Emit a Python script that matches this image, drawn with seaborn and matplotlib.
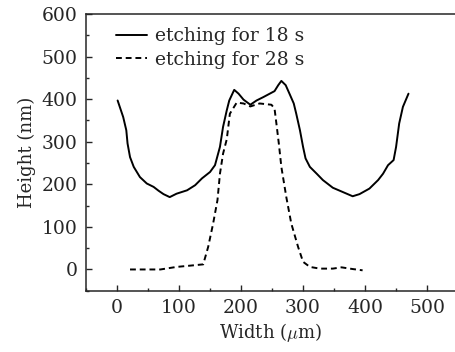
import numpy as np
import pandas as pd
import seaborn as sns
import matplotlib.pyplot as plt
from matplotlib.ticker import MultipleLocator

# etching for 18 s (solid)
x18 = [1, 10, 15, 17, 21, 27, 37, 48, 59, 67, 75, 85, 96, 113, 126, 137, 150, 158,
       166, 171, 177, 181, 189, 196, 204, 215, 225, 236, 254, 260, 265, 272, 279,
       285, 289, 295, 300, 304, 311, 322, 332, 348, 364, 380, 391, 407, 421, 429,
       437, 446, 450, 455, 461, 470]
y18 = [397, 358, 327, 296, 264, 241, 217, 202, 194, 185, 177, 170, 178, 186, 198, 214,
       229, 245, 288, 335, 374, 397, 422, 413, 399, 387, 397, 405, 419, 433, 443,
       433, 410, 390, 366, 327, 288, 261, 241, 225, 210, 192, 182, 172, 177, 190,
       210, 225, 245, 257, 288, 343, 382, 413]

# etching for 28 s (dashed)
x28 = [21, 70, 96, 118, 139, 147, 155, 162, 166, 171, 177, 182, 193, 204, 215, 230,
       249, 254, 257, 261, 265, 273, 281, 292, 300, 311, 327, 348, 362, 380, 396]
y28 = [0, 0, 6, 9, 12, 53, 108, 163, 225, 272, 306, 366, 392, 390, 383, 390,
       387, 378, 343, 295, 241, 170, 108, 53, 18, 6, 2, 2, 5, 1, -2]

labels = ['etching for 18 s', 'etching for 28 s']

sns.set_style('ticks')
plt.rcParams['font.family'] = ['DejaVu Serif']
plt.rcParams['mathtext.fontset'] = 'cm'

fig = plt.figure(figsize=(4.55, 3.52), dpi=100)
ax = fig.add_axes([0.189, 0.174, 0.811, 0.786])

df18 = pd.DataFrame({'x': x18, 'y': y18})
df28 = pd.DataFrame({'x': x28, 'y': y28})
sns.lineplot(data=df18, x='x', y='y', color='black', lw=1.4, sort=False,
             label=labels[0], ax=ax)
sns.lineplot(data=df28, x='x', y='y', color='black', lw=1.4, sort=False,
             linestyle=(0, (3, 2)), label=labels[1], ax=ax)

ax.set_xlim(-50, 545)
ax.set_ylim(-50, 600)
ax.xaxis.set_major_locator(MultipleLocator(100))
ax.xaxis.set_minor_locator(MultipleLocator(50))
ax.yaxis.set_major_locator(MultipleLocator(100))
ax.yaxis.set_minor_locator(MultipleLocator(50))
ax.tick_params(which='major', direction='in', length=4.5, width=1, labelsize=13.5, pad=6)
ax.tick_params(which='minor', direction='in', length=2.5, width=1)
ax.spines['right'].set_visible(False)
for s in ['left', 'bottom', 'top']:
    ax.spines[s].set_linewidth(1.1)

ax.set_xlabel(r'Width ($\mu$m)', fontsize=13, labelpad=3)
ax.set_ylabel('Height (nm)', fontsize=13, labelpad=4)

leg = ax.legend(loc='upper left', frameon=False, fontsize=13.5, handlelength=1.65,
                handletextpad=0.45, labelspacing=0.3, borderaxespad=0.0,
                bbox_to_anchor=(0.06, 0.98))

fig.savefig('out.png', dpi=100)
